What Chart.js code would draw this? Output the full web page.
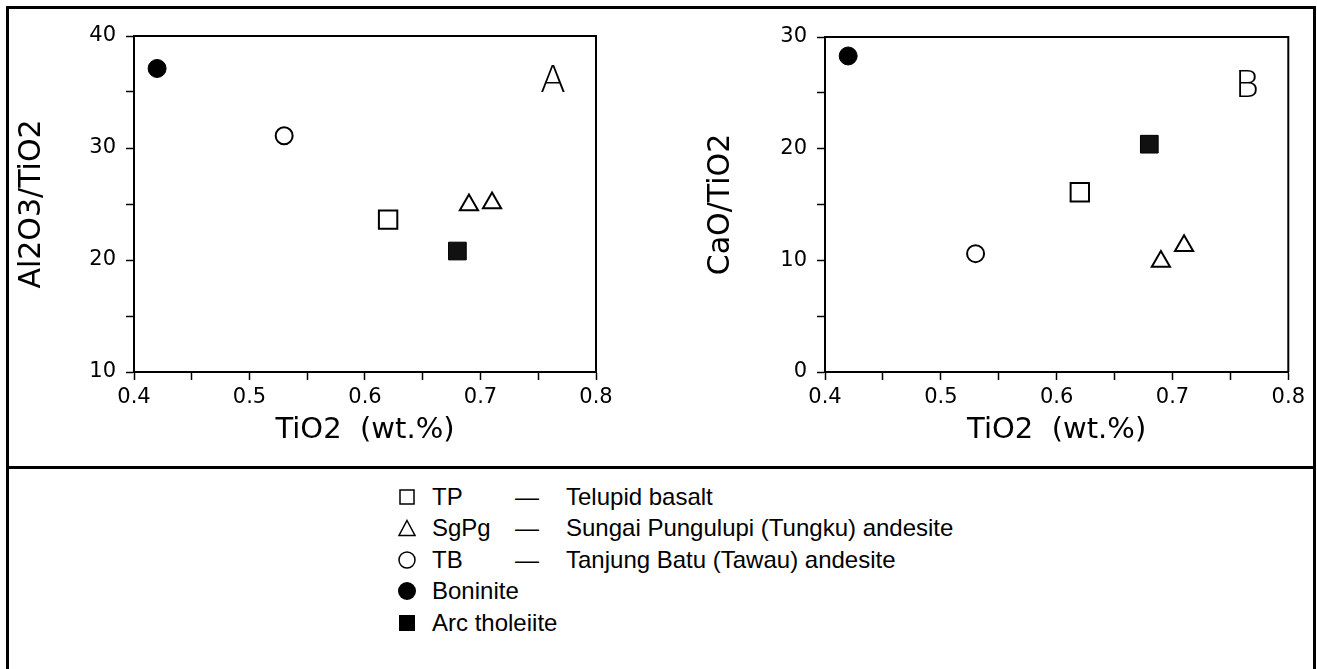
<!DOCTYPE html>
<html>
<head>
<meta charset="utf-8">
<script src="https://cdn.jsdelivr.net/npm/chart.js@4.4.1/dist/chart.umd.min.js"></script>
<style>
  html, body { margin: 0; padding: 0; background: #fff; }
  body { width: 1317px; height: 669px; position: relative; overflow: hidden; }
  .frame { position: absolute; left: 6px; top: 6px; width: 1310px; height: 700px; box-sizing: border-box; border: 3px solid #000; }
  .divider { position: absolute; left: 6px; top: 466px; width: 1310px; height: 3px; background: #000; }
  canvas.panel { position: absolute; top: 10px; }
  #chartA { left: 10px; }
  #chartB { left: 680px; }
  .letter { position: absolute; font-family: "DejaVu Sans", sans-serif; font-weight: 200; font-size: 38px; line-height: 1; transform: translate(-50%, -50%); color: #000; }
  .row { position: absolute; left: 0; height: 30px; line-height: 30px; white-space: nowrap; font-family: "Liberation Sans", Arial, sans-serif; font-size: 24px; color: #000; }
  .row > * { position: absolute; top: 0; }
  .row svg { top: 6px; }
</style>
</head>
<body>
<div class="frame"></div>
<div class="divider"></div>
<canvas id="chartA" class="panel" width="630" height="450"></canvas>
<canvas id="chartB" class="panel" width="630" height="450"></canvas>
<div class="letter" style="left:553px; top:79px;">A</div>
<div class="letter" style="left:1247px; top:84px;">B</div>

<div class="row" style="top:482px;">
  <svg width="18" height="18" style="left:398px"><rect x="2" y="2" width="14" height="14" fill="none" stroke="#000" stroke-width="1.5"/></svg>
  <span style="left:432px">TP</span><span style="left:515px">—</span><span style="left:566px">Telupid basalt</span>
</div>
<div class="row" style="top:513px;">
  <svg width="18" height="18" style="left:398px"><polygon points="9,1.5 17,16.5 1,16.5" fill="none" stroke="#000" stroke-width="1.5"/></svg>
  <span style="left:432px">SgPg</span><span style="left:515px">—</span><span style="left:566px">Sungai Pungulupi (Tungku) andesite</span>
</div>
<div class="row" style="top:545px;">
  <svg width="18" height="18" style="left:398px"><circle cx="9" cy="9" r="8" fill="none" stroke="#000" stroke-width="1.5"/></svg>
  <span style="left:432px">TB</span><span style="left:515px">—</span><span style="left:566px">Tanjung Batu (Tawau) andesite</span>
</div>
<div class="row" style="top:576px;">
  <svg width="18" height="18" style="left:398px"><circle cx="9" cy="9" r="9" fill="#000"/></svg>
  <span style="left:432px">Boninite</span>
</div>
<div class="row" style="top:608px;">
  <svg width="18" height="18" style="left:398px"><rect x="1" y="1" width="16" height="16" fill="#000"/></svg>
  <span style="left:432px">Arc tholeiite</span>
</div>

<script>
// TiO2 (wt.%) and the two ratios for each rock group
const tio2TP = [0.62];
const alTP = [23.6];
const caTP = [16.1];

const tio2SgPg = [0.69, 0.71];
const alSgPg = [24.9, 25.1];
const caSgPg = [9.9, 11.3];

const tio2TB = [0.53];
const alTB = [31.1];
const caTB = [10.6];

const tio2Boninite = [0.42];
const alBoninite = [37.1];
const caBoninite = [28.3];

const tio2Arc = [0.68];
const alArc = [20.8];
const caArc = [20.4];

const X_MIN = 0.4;
const X_MAX = 0.8;
const X_STEP = 0.05;
const Y_STEP = 5;

const TICK_FONT = { family: 'DejaVu Sans', size: 21 };

function pairs(xs, ys) {
  return xs.map((x, i) => ({ x, y: ys[i] }));
}

function buildDatasets(ratio) {
  return [
    { label: 'TP', data: pairs(tio2TP, ratio.tp), pointStyle: 'rect', pointRadius: 13, backgroundColor: '#fff', borderColor: '#000', borderWidth: 2 },
    { label: 'SgPg', data: pairs(tio2SgPg, ratio.sgpg), pointStyle: 'triangle', pointRadius: 10.5, backgroundColor: '#fff', borderColor: '#000', borderWidth: 2 },
    { label: 'TB', data: pairs(tio2TB, ratio.tb), pointStyle: 'circle', pointRadius: 8.5, backgroundColor: '#fff', borderColor: '#000', borderWidth: 2 },
    { label: 'Boninite', data: pairs(tio2Boninite, ratio.bon), pointStyle: 'circle', pointRadius: 9, backgroundColor: '#000', borderColor: '#000', borderWidth: 1 },
    { label: 'Arc tholeiite', data: pairs(tio2Arc, ratio.arc), pointStyle: 'rect', pointRadius: 12.5, backgroundColor: '#111', borderColor: '#000', borderWidth: 1 }
  ];
}

const plotFrame = {
  id: 'plotFrame',
  afterDraw(chart) {
    const { ctx, chartArea: a } = chart;
    ctx.save();
    ctx.strokeStyle = '#000';
    ctx.lineWidth = 2;
    ctx.beginPath();
    ctx.moveTo(a.left, a.top);
    ctx.lineTo(a.right, a.top);
    ctx.lineTo(a.right, a.bottom);
    ctx.stroke();
    ctx.restore();
  }
};

function makePanel(id, cfg) {
  return new Chart(document.getElementById(id), {
    type: 'scatter',
    data: { datasets: buildDatasets(cfg.ratio) },
    options: {
      responsive: false,
      animation: false,
      devicePixelRatio: 1,
      layout: { padding: { top: cfg.padTop, right: cfg.padRight, left: 0, bottom: 0 } },
      plugins: { legend: { display: false }, tooltip: { enabled: false } },
      elements: { point: { hoverRadius: 0 } },
      scales: {
        x: {
          type: 'linear',
          min: X_MIN,
          max: X_MAX,
          afterFit: (scale) => { scale.height = 88; },
          border: { display: true, color: '#000', width: 2 },
          grid: { drawOnChartArea: false, drawTicks: true, tickLength: 8, color: '#000', tickColor: '#000', tickWidth: 1.5 },
          ticks: {
            stepSize: X_STEP,
            autoSkip: false,
            maxRotation: 0,
            padding: 5,
            color: '#000',
            font: TICK_FONT,
            callback: (v) => (Math.abs(v * 10 - Math.round(v * 10)) < 1e-6 ? v.toFixed(1) : '')
          },
          title: { display: true, text: 'TiO2  (wt.%)', color: '#000', font: { family: 'DejaVu Sans', size: 29 }, padding: { top: 0, bottom: 12 } }
        },
        y: {
          min: cfg.yMin,
          max: cfg.yMax,
          afterFit: (scale) => { scale.width = cfg.yWidth; },
          border: { display: true, color: '#000', width: 2 },
          grid: { drawOnChartArea: false, drawTicks: true, tickLength: 8, color: '#000', tickColor: '#000', tickWidth: 1.5 },
          ticks: {
            stepSize: Y_STEP,
            autoSkip: false,
            padding: 10,
            color: '#000',
            font: TICK_FONT,
            callback: (v) => (v % 10 === 0 ? String(v) : '')
          },
          title: { display: true, text: cfg.yTitle, color: '#000', font: { family: 'DejaVu Sans', size: 30 }, padding: { top: cfg.titlePad, bottom: 0 } }
        }
      }
    },
    plugins: [plotFrame]
  });
}

makePanel('chartA', {
  ratio: { tp: alTP, sgpg: alSgPg, tb: alTB, bon: alBoninite, arc: alArc },
  yMin: 10, yMax: 40, yTitle: 'Al2O3/TiO2',
  yWidth: 124, padTop: 26, padRight: 44, titlePad: 4
});

makePanel('chartB', {
  ratio: { tp: caTP, sgpg: caSgPg, tb: caTB, bon: caBoninite, arc: caArc },
  yMin: 0, yMax: 30, yTitle: 'CaO/TiO2',
  yWidth: 145, padTop: 27, padRight: 20, titlePad: 23
});
</script>
</body>
</html>
